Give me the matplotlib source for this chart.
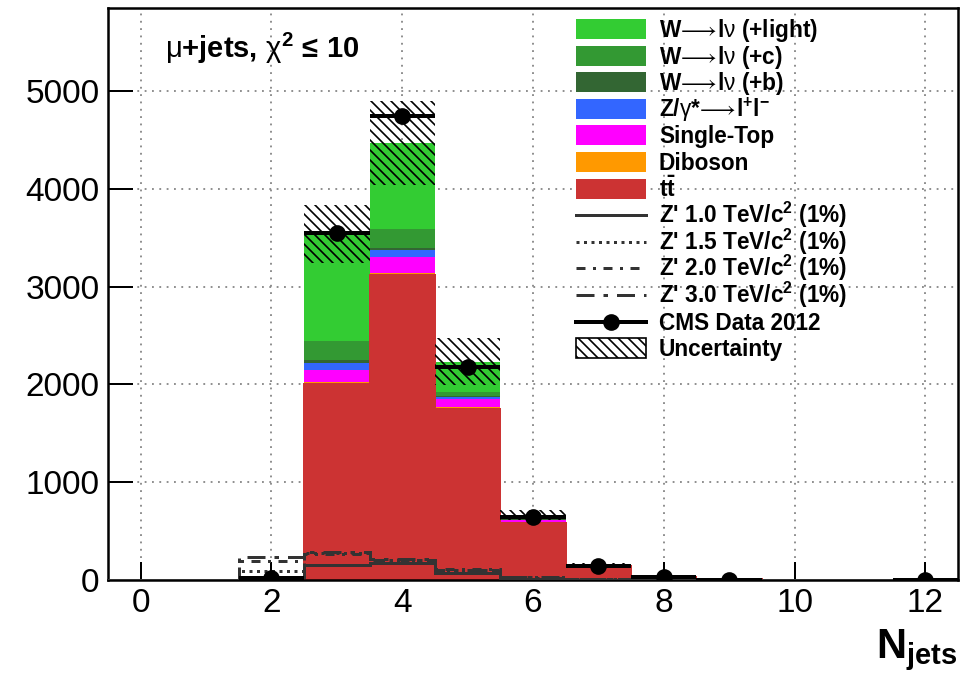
import numpy as np
import matplotlib.pyplot as plt
from matplotlib.patches import Rectangle
from matplotlib.lines import Line2D

plt.rcParams['font.family'] = ['Liberation Sans', 'DejaVu Sans']
plt.rcParams['mathtext.fontset'] = 'custom'
plt.rcParams['mathtext.rm'] = 'Liberation Sans'
plt.rcParams['mathtext.it'] = 'Liberation Sans'
plt.rcParams['mathtext.bf'] = 'Liberation Sans:bold'
plt.rcParams['mathtext.fallback'] = 'stixsans'
plt.rcParams['hatch.linewidth'] = 1.0

# --- Data (N jets, bins 0..12) ---
njets = np.arange(13)
ttbar     = [0, 0, 10, 2004, 3119, 1745, 583, 145, 33, 7, 1.5, 0.5, 0.2]
diboson   = [0, 0, 0, 21, 20, 20, 5, 1, 0, 0, 0, 0, 0]
singletop = [0, 0, 1, 122, 164, 82, 22, 4, 1, 0, 0, 0, 0]
zjets     = [0, 0, 1, 72, 72, 27, 8, 2, 0, 0, 0, 0, 0]
w_b       = [0, 0, 0, 31, 20, 10, 4, 1, 0, 0, 0, 0, 0]
w_c       = [0, 0, 1, 194, 194, 41, 12, 2, 1, 0, 0, 0, 0]
w_light   = [0, 0, 4, 1094, 879, 307, 32, 5, 1, 0, 0, 0, 0]
unc       = [0, 0, 3, 300, 430, 240, 55, 12, 3, 1, 0, 0, 0]
data      = [0, 0, 20, 3545, 4745, 2175, 645, 142, 28, 4, 0, 0, 1]
zp_1p0    = [0, 0, 30, 150, 172, 75, 15, 3, 1, 0, 0, 0, 0]
zp_1p5    = [0, 0, 90, 275, 200, 105, 25, 6, 1, 0, 0, 0, 0]
zp_2p0    = [0, 0, 190, 265, 205, 110, 30, 8, 2, 0, 0, 0, 0]
zp_3p0    = [0, 0, 240, 285, 215, 100, 35, 8, 2, 0, 0, 0, 0]

arrow = r'$\!\longrightarrow\!$'
stack = [
    (ttbar, '#cc3333', r'$\mathbf{t\bar{t}}$'),
    (diboson, '#ff9900', 'Diboson'),
    (singletop, '#ff00ff', 'Single-Top'),
    (zjets, '#3366ff', r'Z/$\gamma$*$\!\longrightarrow\!\mathbf{l^{+}l^{-}}$'),
    (w_b, '#336633', 'W' + arrow + r'l$\nu$ (+b)'),
    (w_c, '#339933', 'W' + arrow + r'l$\nu$ (+c)'),
    (w_light, '#33cc33', 'W' + arrow + r'l$\nu$ (+light)'),
]
zprimes = [
    (zp_1p0, '-', r"Z' 1.0 TeV/$\mathbf{c^{2}}$ (1%)"),
    (zp_1p5, (0, (1, 1.5)), r"Z' 1.5 TeV/$\mathbf{c^{2}}$ (1%)"),
    (zp_2p0, (0, (3, 2.5, 1, 2.5)), r"Z' 2.0 TeV/$\mathbf{c^{2}}$ (1%)"),
    (zp_3p0, (0, (6, 3, 1.5, 3)), r"Z' 3.0 TeV/$\mathbf{c^{2}}$ (1%)"),
]

edges = np.arange(-0.5, 13.5, 1.0)
fig = plt.figure(figsize=(972 / 120, 676 / 120), dpi=120)
ax = fig.add_axes([108 / 972, 96 / 676, 850 / 972, 572 / 676])

# --- stacked backgrounds ---
bottom = np.zeros(13)
for vals, col, _ in stack:
    vals = np.asarray(vals, float)
    ax.bar(njets, vals, bottom=bottom, width=1.0, color=col, linewidth=0, zorder=2)
    bottom += vals
total = bottom
ax.stairs(ttbar, edges, color='#cc3333', lw=1.2, zorder=2)

# --- Z' signals ---
for vals, ls, _ in zprimes:
    ax.stairs(vals, edges, color='#333333', lw=1.8, linestyle=ls, zorder=3)

# --- uncertainty band ---
unc = np.asarray(unc, float)
ax.bar(njets, 2 * unc, bottom=total - unc, width=1.0, fill=False, hatch='\\\\\\\\',
       edgecolor='black', linewidth=0, zorder=4)

# --- data ---
data = np.asarray(data, float)
m = data > 0
ax.errorbar(njets[m], data[m], xerr=0.5, yerr=np.sqrt(data[m]), fmt='o', color='black',
            ms=9, elinewidth=2.4, capsize=0, zorder=5)

ax.set_xlim(-0.5, 12.5)
ax.set_ylim(0, 5850)
ax.set_xticks(range(0, 13, 2))
ax.set_yticks(range(0, 5001, 1000))
ax.tick_params(axis='both', direction='in', labelsize=20, width=1.2)
ax.tick_params(axis='y', length=15, pad=5)
ax.tick_params(axis='x', length=11, pad=5)
ax.grid(True, color='#888888', linestyle=(0, (1, 3)), lw=1.1)
ax.set_axisbelow(True)
for s in ax.spines.values():
    s.set_linewidth(1.5)

ax.text((165 - 108) / 850, 1 - (48 - 8) / 572, r"$\mu$+jets, $\chi^{\mathbf{2}}$ ≤ 10",
        transform=ax.transAxes, fontsize=17.5, fontweight='bold', va='center')

fig.text(957 / 972, 1 - 658 / 676, r'$\mathbf{N_{jets}}$', fontsize=25, ha='right', va='baseline')

# --- legend drawn by hand ---
def row_y(i):
    return 1 - (29 + 26.6 * i - 8) / 572

x0, x1, xt = (576 - 108) / 850, (646 - 108) / 850, (659 - 108) / 850
ph = 20 / 572
entries = [(lbl, ('patch', col)) for _, col, lbl in stack[::-1]]
entries += [(lbl, ('line', ls)) for _, ls, lbl in zprimes]
entries += [('CMS Data 2012', ('data', None)), ('Uncertainty', ('hatch', None))]
for i, (lbl, (kind, sty)) in enumerate(entries):
    y = row_y(i)
    if kind == 'patch':
        ax.add_patch(Rectangle((x0, y - ph / 2), x1 - x0, ph, transform=ax.transAxes,
                               color=sty, lw=0, zorder=6))
    elif kind == 'line':
        ax.add_line(Line2D([x0, x1], [y, y], transform=ax.transAxes, color='#333333',
                           lw=1.8, linestyle=sty, zorder=6))
    elif kind == 'data':
        ax.add_line(Line2D([x0, x1], [y, y], transform=ax.transAxes, color='black', lw=2.4,
                           zorder=6))
        ax.add_line(Line2D([(x0 + x1) / 2], [y], transform=ax.transAxes, color='black',
                           marker='o', ms=9, zorder=6))
    else:
        ax.add_patch(Rectangle((x0, y - ph / 2), x1 - x0, ph, transform=ax.transAxes,
                               fill=False, hatch='\\\\\\\\', edgecolor='black', lw=1.0, zorder=6))
    ax.text(xt, y - 8 / 572, lbl, transform=ax.transAxes, fontsize=13.6,
            fontweight='bold', va='baseline', zorder=6)

fig.savefig('out.png', dpi=120)
